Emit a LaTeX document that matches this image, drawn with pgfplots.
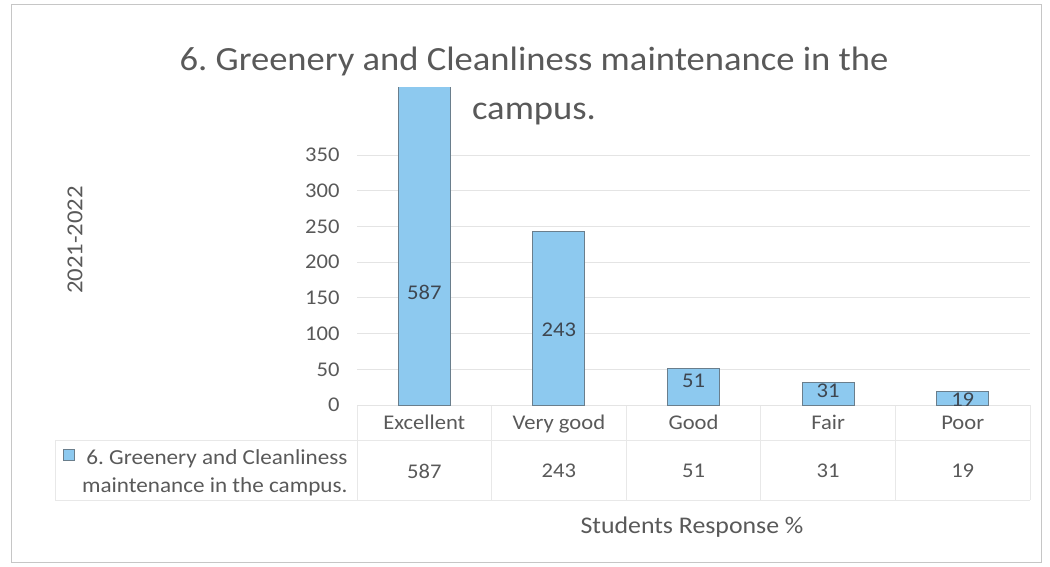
\documentclass[border=0pt]{standalone}
\usepackage{fontspec}
\setmainfont{Carlito}[FakeStretch=1.08]
\usepackage{pgfplots}
\usepackage{pgfplotstable}
\pgfplotsset{compat=1.18}
\frenchspacing
\definecolor{barblue}{HTML}{8DC9EF}
\definecolor{bardraw}{HTML}{6A7E8C}
\definecolor{txtgray}{HTML}{595959}
\definecolor{lblcol}{HTML}{3E4650}
\definecolor{gridgray}{HTML}{E4E4E4}
\definecolor{tblgray}{HTML}{E8E8E8}
\pgfplotstableread{
x  y   cat
0  587 Excellent
1  243 Verygood
2  51  Good
3  31  Fair
4  19  Poor
}\datatable
\begin{document}
\begin{tikzpicture}
\begin{scope}[x=1bp,y=-1bp]
\path[use as bounding box] (0,0) rectangle (1050,567);
\draw[gray!45, line width=1bp] (11,5) rectangle (1041,562);
% data table lines
\draw[tblgray, line width=1bp] (55,440) -- (1030,440);
\draw[tblgray, line width=1bp] (55,500) -- (1030,500);
\draw[tblgray, line width=1bp] (55,440) -- (55,500);
\foreach \xx in {357,491.6,626.2,760.8,895.4,1030} {
  \draw[tblgray, line width=1bp] (\xx,405) -- (\xx,500);
}
\end{scope}
\begin{axis}[
  at={(357bp,-405bp)}, anchor=south west,
  scale only axis, width=673bp, height=317bp,
  xmin=-0.5, xmax=4.5, ymin=0, ymax=444,
  axis line style={draw=none},
  major tick length=0pt,
  xtick={0,...,4},
  xticklabels={Excellent,Very good,Good,Fair,Poor},
  ytick={0,50,...,350},
  ymajorgrids, grid style={gridgray, line width=1bp},
  ticklabel style={font=\fontsize{21}{25}\selectfont, text=txtgray},
  /pgf/number format/assume math mode=true,
  yticklabel style={xshift=-14bp},
  xticklabel style={yshift=-7bp, text height=14bp, text depth=4bp},
]
\addplot[ybar, bar width=52bp, fill=barblue, draw=bardraw, line width=0.9bp] table[x=x,y=y] {\datatable};
\addplot[only marks, mark=none, nodes near coords, point meta=explicit symbolic,
  nodes near coords style={font=\fontsize{21}{25}\selectfont, text=lblcol, anchor=center}]
  coordinates {(0,158)[587] (1,105)[243] (2,34)[51] (3,20)[31] (4,8)[19]};
\end{axis}
\begin{scope}[x=1bp,y=-1bp]
\node[align=center, text=txtgray, font=\fontsize{34}{49}\selectfont] at (534,86)
  {6. Greenery and Cleanliness maintenance in the\\campus.};
\foreach \xx/\vv in {424.3/587,558.9/243,693.5/51,828.1/31,962.7/19} {
  \node[text=txtgray, font=\fontsize{21}{25}\selectfont] at (\xx,471) {\vv};
}
\fill[barblue, draw=bardraw, line width=0.6bp] (63,449) rectangle (74,460);
\node[align=right, anchor=east, text=txtgray, font=\fontsize{21.5}{28}\selectfont] at (351,473)
  {6. Greenery and Cleanliness\\maintenance in the campus.};
\node[text=txtgray, font=\fontsize{24}{28}\selectfont] at (692,527) {Students Response \%};
\node[text=txtgray, rotate=90, font=\fontsize{23}{26}\selectfont] at (75,240) {2021-2022};
\end{scope}
\end{tikzpicture}
\end{document}
